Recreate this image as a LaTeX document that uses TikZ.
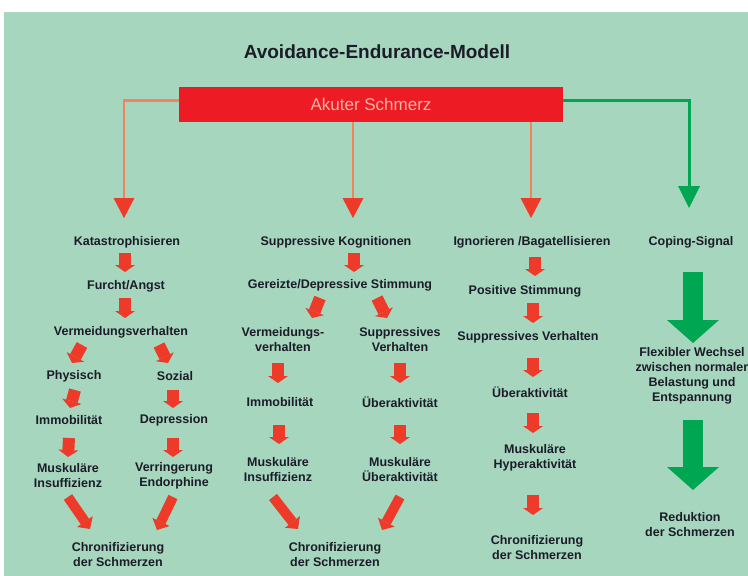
\documentclass[tikz,border=0pt]{standalone}
\usepackage{fontspec}
\setmainfont{Liberation Sans}
\usetikzlibrary{arrows.meta,calc}
\definecolor{bg}{RGB}{166,214,190}
\definecolor{boxred}{RGB}{237,28,36}
\definecolor{arred}{RGB}{238,58,40}
\definecolor{olin}{RGB}{244,130,92}
\definecolor{gr}{RGB}{0,166,81}
\definecolor{txt}{RGB}{28,28,40}
\definecolor{boxtxt}{RGB}{246,180,165}
\tikzset{
  lbl/.style={font=\bfseries\fontsize{12.5}{15}\selectfont, text=txt, align=center, inner sep=0pt},
  blk/.style={draw=arred, line width=12pt, -{Triangle[length=7pt,width=20pt,line width=0pt]}},
  blkd/.style={draw=arred, line width=10pt, -{Triangle[length=9pt,width=19pt,line width=0pt]}},
  bigg/.style={draw=gr, line width=20pt, -{Triangle[length=23pt,width=52pt,line width=0pt]}},
  oconn/.style={draw=olin, line width=2.5pt, -{Triangle[length=20pt,width=21pt,color=arred,line width=0pt]}},
  gconn/.style={draw=gr, line width=3pt, -{Triangle[length=22pt,width=22pt,line width=0pt]}},
}
\begin{document}
\begin{tikzpicture}[x=1pt,y=-1pt]
\useasboundingbox (0,0) rectangle (748,576);
\fill[white] (0,0) rectangle (748,576);
\fill[bg] (4,12) rectangle (748,576);

\node[lbl, font=\bfseries\fontsize{19}{22}\selectfont] (title) at (377,52) {Avoidance-Endurance-Modell};
\node[fill=boxred, minimum width=384pt, minimum height=35pt, inner sep=0pt, text=boxtxt, font=\fontsize{17}{20}\selectfont] (box) at (371,104.5) {Akuter Schmerz};

% column 1
\node[lbl] (k1) at (127,242) {Katastrophisieren};
\node[lbl] (k2) at (126,286) {Furcht/Angst};
\node[lbl] (k3) at (121,332) {Vermeidungsverhalten};
\node[lbl] (k4a) at (74,376) {Physisch};
\node[lbl] (k4b) at (175,376) {Sozial};
\node[lbl] (k5a) at (69,420) {Immobilität};
\node[lbl] (k5b) at (174,420) {Depression};
\node[lbl] (k6a) at (68,475.5) {Muskuläre\\Insuffizienz};
\node[lbl] (k6b) at (174,475.5) {Verringerung\\Endorphine};
\node[lbl] (k7) at (118,554.5) {Chronifizierung\\der Schmerzen};

% column 2
\node[lbl] (s1) at (336,242) {Suppressive Kognitionen};
\node[lbl] (s2) at (340,285) {Gereizte/Depressive Stimmung};
\node[lbl] (s3a) at (283,339.5) {Vermeidungs-\\verhalten};
\node[lbl] (s3b) at (400,339.5) {Suppressives\\Verhalten};
\node[lbl] (s4a) at (280,402) {Immobilität};
\node[lbl] (s4b) at (400,402) {Überaktivität};
\node[lbl] (s5a) at (278,469.5) {Muskuläre\\Insuffizienz};
\node[lbl] (s5b) at (400,469.5) {Muskuläre\\Überaktivität};
\node[lbl] (s6) at (335,554.5) {Chronifizierung\\der Schmerzen};

% column 3
\node[lbl] (i1) at (532,242) {Ignorieren /Bagatellisieren};
\node[lbl] (i2) at (525,291) {Positive Stimmung};
\node[lbl] (i3) at (528,337) {Suppressives Verhalten};
\node[lbl] (i4) at (530,392) {Überaktivität};
\node[lbl] (i5) at (535,458) {Muskuläre\\Hyperaktivität};
\node[lbl] (i6) at (537,547.5) {Chronifizierung\\der Schmerzen};

% column 4
\node[lbl] (c1) at (691,242) {Coping-Signal};
\node[lbl] (c2) at (692,375.5) {Flexibler Wechsel\\zwischen normaler\\Belastung und\\Entspannung};
\node[lbl] (c3) at (690,524.5) {Reduktion\\der Schmerzen};

% main connectors
\path ([shift={(17,-24)}]s1.center) coordinate (t2);
\path ([shift={(-1,-24)}]i1.center) coordinate (t3);
\draw[oconn] ([shift={(0,-4)}]box.west) -| ([shift={(-3,-24)}]k1.center);
\draw[oconn] (box.south -| t2) -- (t2);
\draw[oconn] (box.south -| t3) -- (t3);
\draw[gconn] ([shift={(0,-4)}]box.east) -| ([shift={(-2,-34)}]c1.center);

% column 1 arrows
\draw[blk] ([shift={(-2,11)}]k1.center) -- ([shift={(-1,-14)}]k2.center);
\draw[blk] ([shift={(-1,12)}]k2.center) -- ([shift={(4,-14)}]k3.center);
\draw[blk] ([shift={(-39,13)}]k3.center) -- ([shift={(-2,-13)}]k4a.center);
\draw[blk] ([shift={(38,13)}]k3.center) -- ([shift={(-7,-13)}]k4b.center);
\draw[blk] ([shift={(1,14)}]k4a.center) -- ([shift={(1,-12)}]k5a.center);
\draw[blk] ([shift={(-2,14)}]k4b.center) -- ([shift={(-1,-12)}]k5b.center);
\draw[blk] ([shift={(0,18)}]k5a.center) -- ([shift={(0,-18.5)}]k6a.center);
\draw[blk] ([shift={(-1,18)}]k5b.center) -- ([shift={(-1,-18.5)}]k6b.center);
\draw[blkd] ([shift={(0,21.5)}]k6a.center) -- ([shift={(-28,-25.5)}]k7.center);
\draw[blkd] ([shift={(-1,21.5)}]k6b.center) -- ([shift={(39,-24.5)}]k7.center);

% column 2 arrows
\draw[blk] ([shift={(18,11)}]s1.center) -- ([shift={(14,-13)}]s2.center);
\draw[blk] ([shift={(-20,13)}]s2.center) -- ([shift={(29,-21.5)}]s3a.center);
\draw[blk] ([shift={(37,13)}]s2.center) -- ([shift={(-13,-21.5)}]s3b.center);
\draw[blk] ([shift={(-5,23.5)}]s3a.center) -- ([shift={(-2,-19)}]s4a.center);
\draw[blk] ([shift={(0,23.5)}]s3b.center) -- ([shift={(0,-19)}]s4b.center);
\draw[blk] ([shift={(-1,23)}]s4a.center) -- ([shift={(1,-25.5)}]s5a.center);
\draw[blk] ([shift={(0,23)}]s4b.center) -- ([shift={(0,-25.5)}]s5b.center);
\draw[blkd] ([shift={(-5,27.5)}]s5a.center) -- ([shift={(-37,-25.5)}]s6.center);
\draw[blkd] ([shift={(0,27.5)}]s5b.center) -- ([shift={(47,-24.5)}]s6.center);

% column 3 arrows
\draw[blk] ([shift={(3,15)}]i1.center) -- ([shift={(10,-15)}]i2.center);
\draw[blk] ([shift={(8,12)}]i2.center) -- ([shift={(5,-14)}]i3.center);
\draw[blk] ([shift={(5,21)}]i3.center) -- ([shift={(3,-15)}]i4.center);
\draw[blk] ([shift={(3,21)}]i4.center) -- ([shift={(-2,-25)}]i5.center);
\draw[blk] ([shift={(-2,37)}]i5.center) -- ([shift={(-4,-32.5)}]i6.center);

% column 4 arrows
\draw[bigg] ([shift={(2,30)}]c1.center) -- ([shift={(1,-32.5)}]c2.center);
\draw[bigg] ([shift={(1,44.5)}]c2.center) -- ([shift={(3,-34.5)}]c3.center);
\end{tikzpicture}
\end{document}
